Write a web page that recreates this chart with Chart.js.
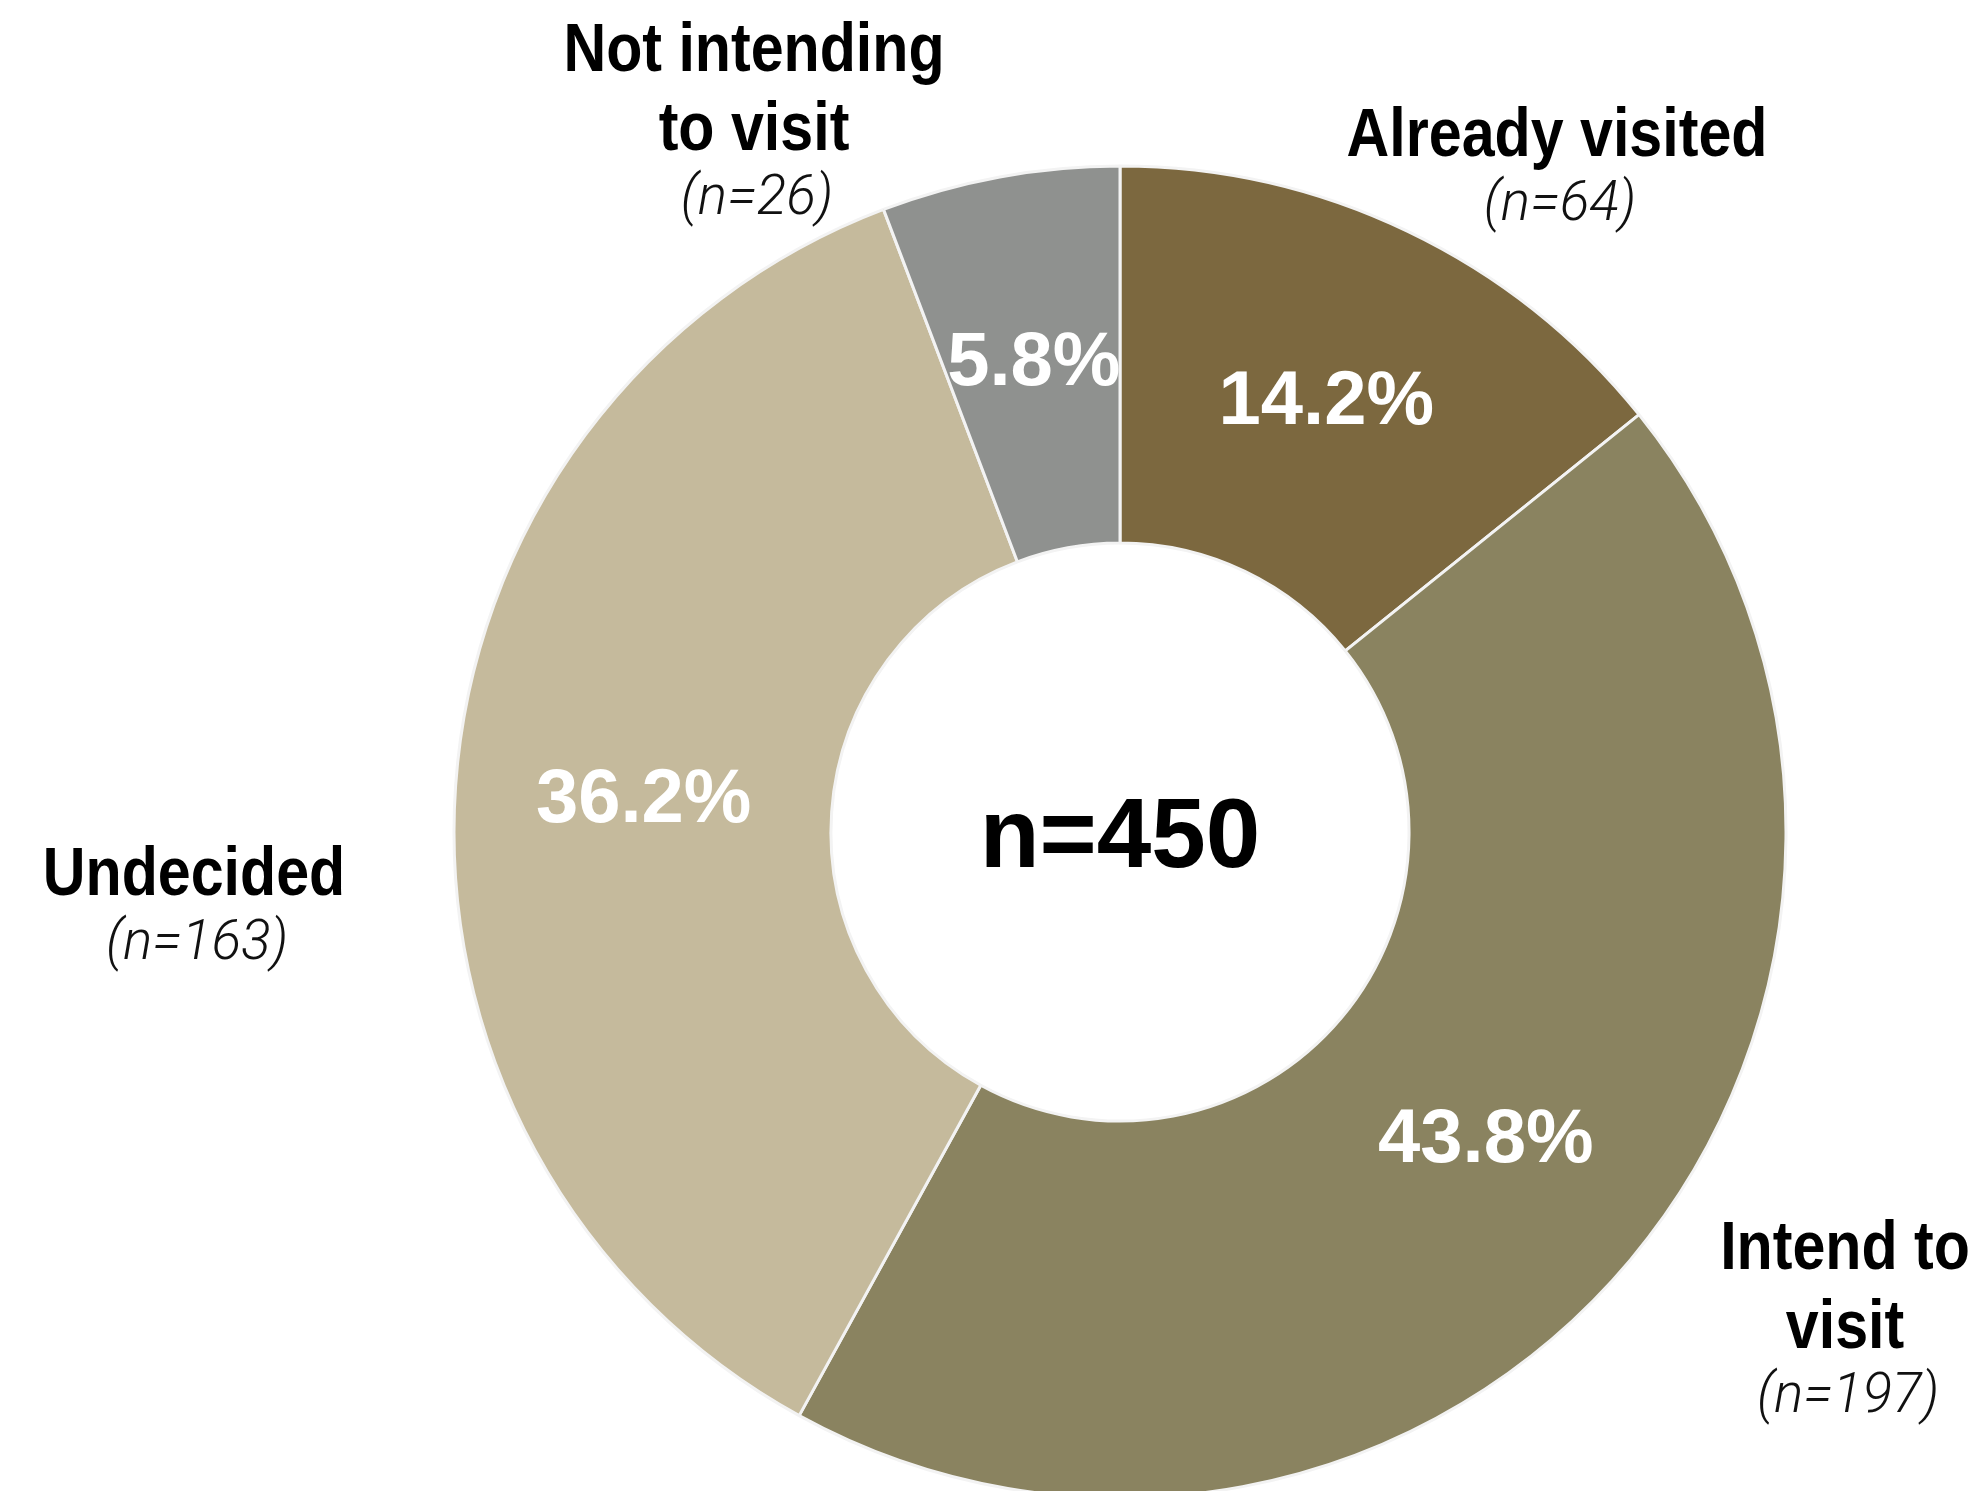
<!DOCTYPE html>
<html>
<head>
<meta charset="utf-8">
<script src="https://cdn.jsdelivr.net/npm/chart.js@4/dist/chart.umd.min.js"></script>
<style>
  html, body { margin: 0; padding: 0; background: #ffffff; }
  #wrap { width: 1988px; height: 1491px; overflow: hidden; }
</style>
</head>
<body>
<div id="wrap"><canvas id="visit-chart" width="1988" height="1491"></canvas></div>
<script>
// Visit intention responses
const categories = ["Already visited", "Intend to visit", "Undecided", "Not intending to visit"];
const counts = [64, 197, 163, 26];
const colors = ["#7c683f", "#8a8360", "#c5ba9c", "#8f918f"];

// how each category label is broken into lines, and where it sits
const labelLines = [["Already visited"], ["Intend to", "visit"], ["Undecided"], ["Not intending", "to visit"]];
const labelAnchors = [[1557, 137], [1845, 1250], [194, 876], [754, 52]];

const total = counts.reduce((a, b) => a + b, 0);

// no narrow face installed, so the bold labels get squeezed horizontally
const labelFont = 'bold 68px "Liberation Sans", Arial, sans-serif';
const labelSqueeze = 0.87;
const countFont = 'italic 300 55px Roboto, "Liberation Sans", sans-serif';
const pctFont = 'bold 76px "Liberation Sans", Arial, sans-serif';
const centerFont = 'bold 98px "Liberation Sans", Arial, sans-serif';

// percentages inside each slice, placed at the slice centroid
const sliceText = {
  id: "sliceText",
  afterDatasetsDraw(chart) {
    const ctx = chart.ctx;
    const meta = chart.getDatasetMeta(0);
    ctx.save();
    ctx.font = pctFont;
    ctx.fillStyle = "#ffffff";
    ctx.textAlign = "center";
    ctx.textBaseline = "middle";
    meta.data.forEach((arc, i) => {
      const p = arc.tooltipPosition();
      const pct = (counts[i] / total * 100).toFixed(1) + "%";
      ctx.fillText(pct, p.x, p.y + 2);
    });

    // total in the hole
    const c = meta.data[0];
    ctx.font = centerFont;
    ctx.fillStyle = "#000000";
    ctx.fillText("n=" + total, c.x, c.y + 8);
    ctx.restore();
  }
};

// category names with their counts, outside the ring
const outerText = {
  id: "outerText",
  afterDraw(chart) {
    const ctx = chart.ctx;
    ctx.save();
    ctx.textAlign = "center";
    ctx.textBaseline = "middle";
    categories.forEach((cat, i) => {
      const [x, y] = labelAnchors[i];
      const lines = labelLines[i];
      ctx.fillStyle = "#000000";
      ctx.font = labelFont;
      lines.forEach((ln, k) => {
        ctx.save();
        ctx.translate(x, y + k * 79);
        ctx.scale(labelSqueeze, 1);
        ctx.fillText(ln, 0, 0);
        ctx.restore();
      });
      ctx.fillStyle = "#111111";
      ctx.font = countFont;
      ctx.fillText("(n=" + counts[i] + ")", x + 3, y + lines.length * 79 - 10);
    });
    ctx.restore();
  }
};

new Chart(document.getElementById("visit-chart"), {
  type: "doughnut",
  data: {
    labels: categories,
    datasets: [{
      data: counts,
      backgroundColor: colors,
      borderColor: "#f3f3f3",
      borderWidth: 3,
      radius: 666,
    }],
  },
  options: {
    responsive: false,
    animation: false,
    cutout: "43.4%",
    layout: { padding: { left: 252, top: 173, right: 0, bottom: 0 } },
    plugins: {
      legend: { display: false },
      tooltip: { enabled: false },
    },
  },
  plugins: [sliceText, outerText],
});
</script>
</body>
</html>
